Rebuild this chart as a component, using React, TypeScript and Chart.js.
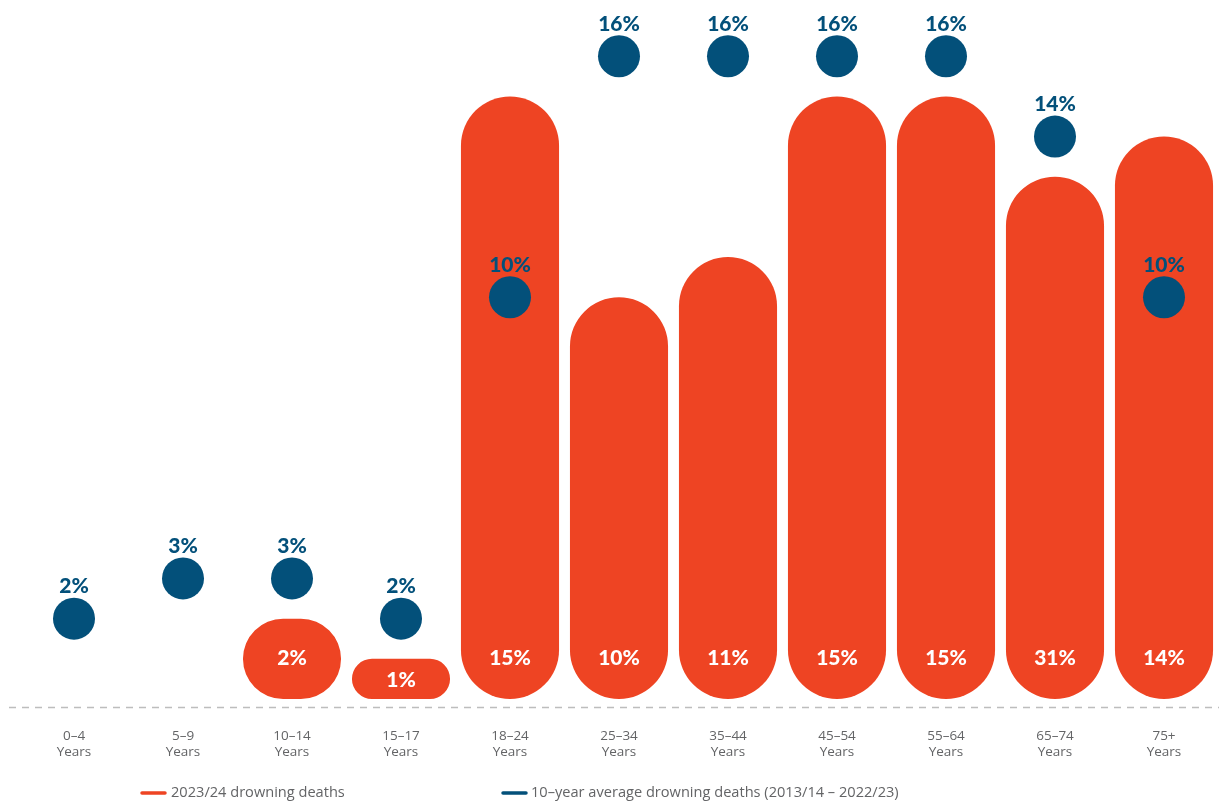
import React, { useEffect, useRef } from "react";
import { Chart, registerables } from "chart.js";

Chart.register(...registerables);

const categories = ["0–4", "5–9", "10–14", "15–17", "18–24", "25–34", "35–44", "45–54", "55–64", "65–74", "75+"];
const categorySubLabel = "Years";
// bar heights as drawn (percent)
const deaths2023 = [null, null, 2, 1, 15, 10, 11, 15, 15, 13, 14];
// printed labels inside bars
const deaths2023Labels = ["", "", "2%", "1%", "15%", "10%", "11%", "15%", "15%", "31%", "14%"];
const avg10yr = [2, 3, 3, 2, 10, 16, 16, 16, 16, 14, 10];
const avg10yrLabels = ["2%", "3%", "3%", "2%", "10%", "16%", "16%", "16%", "16%", "14%", "10%"];
const legendLabels = ["2023/24 drowning deaths", "10–year average drowning deaths (2013/14 – 2022/23)"];

const ORANGE = "#EE4423";
const BLUE = "#03507A";
const GRAY = "#636466";

const overlayPlugin = {
  id: "overlay",
  afterDatasetsDraw(chart: any) {
    const ctx = chart.ctx;
    const x = chart.scales.x;
    const y = chart.scales.y;
    const zeroY = y.getPixelForValue(0);
    ctx.save();
    ctx.textAlign = "center";
    ctx.textBaseline = "middle";
    // bar labels
    ctx.font = "900 21px Lato, 'Noto Sans', sans-serif";
    ctx.fillStyle = "#ffffff";
    deaths2023.forEach((v, i) => {
      if (v == null) return;
      const top = y.getPixelForValue(v);
      const ly = Math.max(top + 21, zeroY - 41);
      ctx.fillText(deaths2023Labels[i], x.getPixelForValue(i), ly);
    });
    // dot labels
    ctx.fillStyle = BLUE;
    avg10yr.forEach((v, i) => {
      ctx.fillText(avg10yrLabels[i], x.getPixelForValue(i), y.getPixelForValue(v) - 32);
    });
    // dashed baseline
    const lineY = chart.chartArea.bottom + 0.5;
    ctx.strokeStyle = "#BDBDBD";
    ctx.lineWidth = 1.5;
    ctx.setLineDash([7, 6]);
    ctx.beginPath();
    ctx.moveTo(9, lineY);
    ctx.lineTo(chart.width, lineY);
    ctx.stroke();
    ctx.setLineDash([]);
    // x labels
    ctx.fillStyle = GRAY;
    ctx.font = "13.5px 'Open Sans', sans-serif";
    categories.forEach((c, i) => {
      const cx = x.getPixelForValue(i);
      ctx.fillText(c, cx, chart.chartArea.bottom + 29);
      ctx.fillText(categorySubLabel, cx, chart.chartArea.bottom + 45);
    });
    // legend
    const legendY = 793;
    const items = [
      { color: ORANGE, x0: 142, x1: 165, tx: 171, text: legendLabels[0] },
      { color: BLUE, x0: 503, x1: 526, tx: 531, text: legendLabels[1] },
    ];
    ctx.textAlign = "left";
    ctx.font = "14.6px 'Open Sans', sans-serif";
    items.forEach((it) => {
      ctx.strokeStyle = it.color;
      ctx.lineWidth = 3.5;
      ctx.lineCap = "round";
      ctx.beginPath();
      ctx.moveTo(it.x0, legendY);
      ctx.lineTo(it.x1, legendY);
      ctx.stroke();
      ctx.fillStyle = GRAY;
      ctx.fillText(it.text, it.tx, legendY);
    });
    ctx.restore();
  },
};

export default function App() {
  const ref = useRef<HTMLCanvasElement | null>(null);
  useEffect(() => {
    if (!ref.current) return;
    const chart = new Chart(ref.current, {
      type: "bar",
      data: {
        labels: categories,
        datasets: [
          {
            type: "line",
            label: legendLabels[1],
            data: avg10yr,
            showLine: false,
            pointRadius: 21,
            pointHoverRadius: 21,
            pointBackgroundColor: BLUE,
            pointBorderWidth: 0,
            borderColor: BLUE,
            backgroundColor: BLUE,
            clip: false,
            order: 0,
          } as any,
          {
            type: "bar",
            label: legendLabels[0],
            data: deaths2023,
            backgroundColor: ORANGE,
            borderRadius: 60,
            borderSkipped: false,
            categoryPercentage: 1,
            barPercentage: 0.9,
            order: 1,
          } as any,
        ],
      },
      options: {
        animation: false,
        responsive: true,
        maintainAspectRatio: false,
        layout: { autoPadding: false, padding: { top: 0, bottom: 96, left: 19.5, right: 0.5 } },
        plugins: { legend: { display: false }, tooltip: { enabled: false } },
        scales: {
          x: { display: false, offset: true },
          y: { display: false, min: -0.2, max: 17.4 },
        },
      },
      plugins: [overlayPlugin],
    });
    return () => chart.destroy();
  }, []);
  return (
    <div style={{ position: "absolute", left: 0, top: 0, width: 1219, height: 803, background: "#fff" }}>
      <canvas ref={ref} />
    </div>
  );
}
